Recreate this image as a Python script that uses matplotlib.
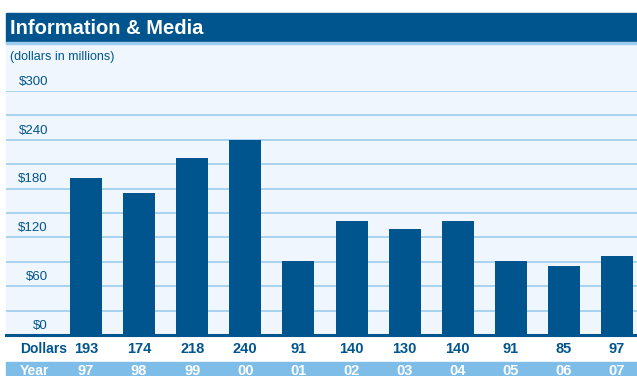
import matplotlib.pyplot as plt
from matplotlib.patches import Rectangle

years = ["97", "98", "99", "00", "01", "02", "03", "04", "05", "06", "07"]
dollars = [193, 174, 218, 240, 91, 140, 130, 140, 91, 85, 97]
tick_values = [0, 60, 120, 180, 240, 300]

dark_blue = "#00558f"
light_blue = "#7dbde8"
grid_blue = "#9ccdee"
panel_bg = "#f0f6fd"

plt.rcParams['font.family'] = ['Liberation Sans Narrow', 'Liberation Sans', 'DejaVu Sans']

W, H = 637, 376
fig = plt.figure(figsize=(W / 100, H / 100), dpi=100)


def fx(px):
    return px / W


def fy(py):
    return 1 - py / H


def band(x0, y0, x1, y1, color):
    fig.patches.append(Rectangle((fx(x0), fy(y1)), fx(x1) - fx(x0), fy(y0) - fy(y1),
                                 transform=fig.transFigure, color=color, zorder=-5))


# background panel, title band and year row
band(6, 42, W, 336, panel_bg)
band(6, 13, W, 42, dark_blue)
band(6, 42, W, 43.5, grid_blue)
band(6, 362, W, H, light_blue)

fig.text(fx(10), fy(28), "Information & Media", color="white", fontsize=14.5,
         fontweight="bold", va="center", ha="left")
fig.text(fx(10), fy(57), "(dollars in millions)", color=dark_blue, fontsize=9,
         va="center", ha="left")

# chart area: baseline at y=335, $300 at y=91
ax = fig.add_axes([fx(6), fy(335), fx(W) - fx(6), fy(91) - fy(335)])
ax.set_zorder(1)
ax.patch.set_visible(False)
step = 53.1
x = list(range(len(years)))
ax.set_xlim((6 - 86) / step, (W - 86) / step)
ax.set_ylim(0, 300)
for v in range(30, 301, 30):
    ax.axhline(v, color=grid_blue, lw=1.2, zorder=1)
ax.axhline(0, color=dark_blue, lw=2.2, zorder=3, clip_on=False)
ax.bar(x, dollars, width=32 / step, color=dark_blue, zorder=2)
for s in ax.spines.values():
    s.set_visible(False)
ax.set_xticks([])
ax.set_yticks([])

for t in tick_values:
    ax.text((48 - 86) / step, t + 4, f"${t}", color=dark_blue, fontsize=9.5,
            ha="right", va="bottom")

# dollar and year rows
fig.text(fx(20), fy(349), "Dollars", color=dark_blue, fontsize=10,
         fontweight="bold", va="center", ha="left")
fig.text(fx(20), fy(371), "Year", color="white", fontsize=10,
         fontweight="bold", va="center", ha="left")
for i in x:
    cx = fx(86 + step * i)
    fig.text(cx, fy(349), str(dollars[i]), color=dark_blue, fontsize=10.5,
             fontweight="bold", va="center", ha="center")
    fig.text(cx, fy(371), years[i], color="white", fontsize=10.5,
             fontweight="bold", va="center", ha="center")

fig.savefig("out.png", dpi=100)
